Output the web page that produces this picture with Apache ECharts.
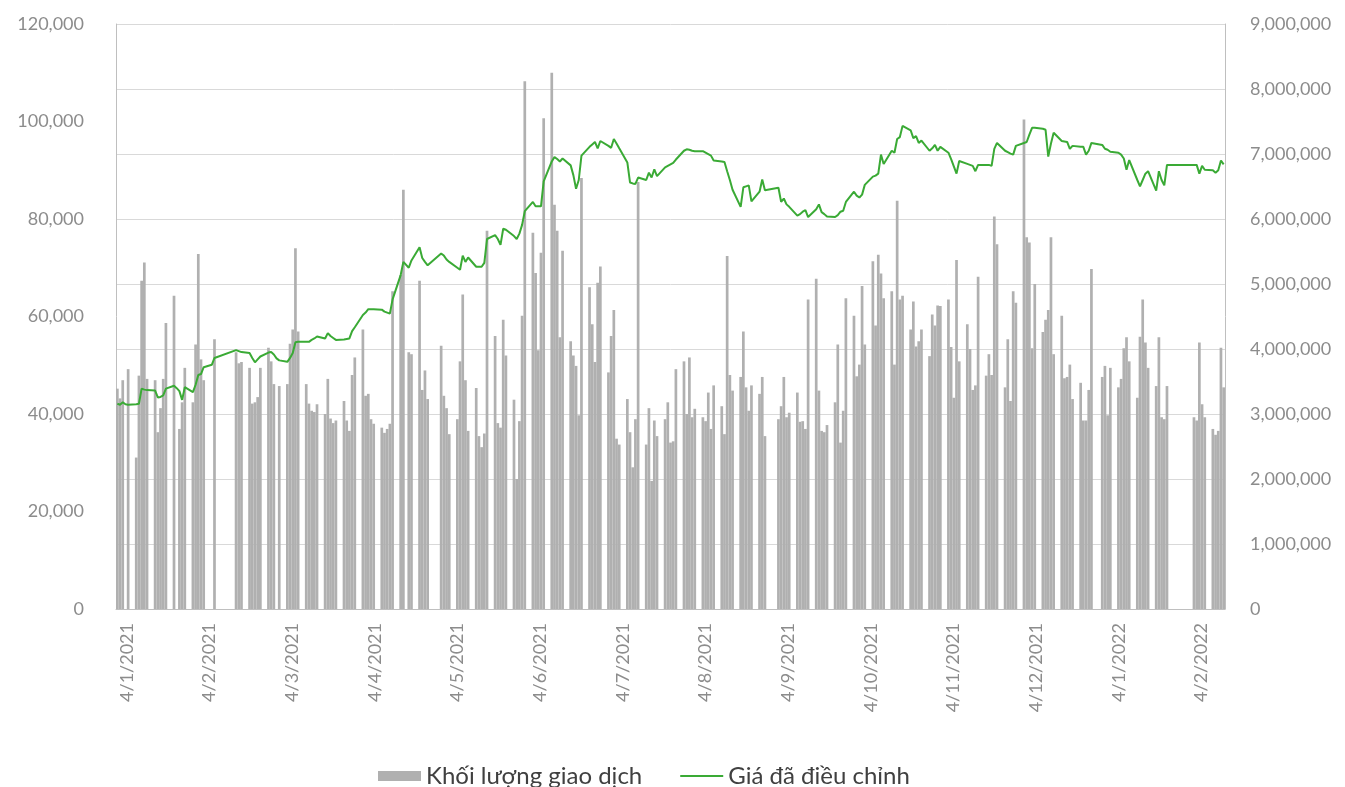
<!DOCTYPE html>
<html>
<head>
<meta charset="utf-8">
<script src="https://cdn.jsdelivr.net/npm/echarts@6/dist/echarts.min.js"></script>
<style>
  html, body { margin: 0; padding: 0; background: #fff; }
  #chart { width: 1345px; height: 787px; }
</style>
</head>
<body>
<div id="chart"></div>
<script>
// tick labels of the date axis (d/m/yyyy)
const monthLabels = ['4/1/2021', '4/2/2021', '4/3/2021', '4/4/2021', '4/5/2021', '4/6/2021', '4/7/2021',
  '4/8/2021', '4/9/2021', '4/10/2021', '4/11/2021', '4/12/2021', '4/1/2022', '4/2/2022'];

const firstDay = '2021-01-04';
const lastDay  = '2022-02-18';
// market closed on these weekdays
const holidays = ['2021-02-10', '2021-02-11', '2021-02-12', '2021-02-15', '2021-02-16', '2021-04-21',
  '2021-04-30', '2021-05-03', '2021-09-02', '2021-09-03', '2022-01-03', '2022-01-31', '2022-02-01',
  '2022-02-02', '2022-02-03', '2022-02-04'];

// Khối lượng giao dịch, one value per session (null = no bar)
const volume2021 = [
  3390000, 3240000, 3520000, null, 3690000, 2330000, 3590000, 5050000, 5330000, 3540000, 3520000, 2720000, 3090000, 3540000, 4400000, 4820000, null, 2770000, 3180000, 3710000,
  3180000, 4070000, 5460000, 3840000, 3520000, null, 4150000, 3950000, 3780000, 3800000, 3710000, 3160000, 3180000, 3260000, 3710000,
  4020000, 3810000, 3460000, null, 3430000, 3460000, 4080000, 4300000, 5550000, 4270000, 3460000, 3160000, 3050000, 3030000, 3150000, 3000000, 3540000, 2930000, 2860000, 2900000, 3200000, 2900000, 2740000,
  3600000, 3870000, 4300000, 3280000, 3310000, 2920000, 2850000, 2790000, 2710000, 2770000, 2850000, 4890000, 5140000, 6450000, 3950000, 3920000, 5050000, 3370000, 3670000, 3230000,
  4050000, 3280000, 3090000, 2690000, 2920000, 3810000, 4840000, 3520000, 2740000, 3400000, 2660000, 2490000, 2700000, 5820000, 4200000, 2860000, 2790000, 4450000, 3900000, 3220000,
  2000000, 2890000, 4510000, 8120000, 5790000, 5170000, 3980000, 5480000, 7550000, 8250000, 6220000, 5820000, 4180000, 5510000, 4120000, 3900000, 3740000, 2980000, 6630000, 4950000, 4380000, 3800000,
  5020000, 5270000, 3640000, 4200000, 4600000, 2620000, 2530000, 3230000, 2720000, 2180000, 2920000, 6570000, 2530000, 3090000, 1970000, 2900000, 2660000, 2920000, 3180000, 2560000, 2580000, 3690000,
  3810000, 3000000, 3870000, 2950000, 3080000, 2950000, 2890000, 3330000, 2770000, 3440000, 3120000, 2690000, 5430000, 3600000, 3360000, 3570000, 4270000, 3410000, 3050000, 3440000, 3310000, 3570000,
  2660000, 2920000, 3120000, 3570000, 2950000, 3020000, 3330000, 2880000, 2890000, 2770000, 4760000, 5080000, 3360000, 2740000, 2720000, 2830000, 3180000, 4070000, 2560000, 3050000,
  4780000, 4510000, 3580000, 3760000, 4970000, 4070000, 5350000, 4360000, 5450000, 5160000, 4780000, 4890000, 3760000, 6280000, 4760000, 4820000, 4300000, 4730000, 4040000, 4120000, 4300000,
  3890000, 4530000, 4360000, 4670000, 4660000, 4760000, 4030000, 3250000, 5370000, 3810000, 4380000, 4000000, 3370000, 3440000, 5110000, 3590000, 3920000, 3600000, 6040000, 5610000, 3410000, 4150000,
  3200000, 4890000, 4710000, 7530000, 5720000, 5640000, 4010000, 5000000, 4260000, 4450000, 4600000, 5720000, 3920000, 4510000, 3550000, 3570000, 3760000, 3230000, 3480000, 2900000, 2900000, 3370000, 5230000
];
const volume2022 = [
  3570000, 3740000, 2980000, 3710000, 3410000, 3540000, 4010000, 4180000, 3810000, 3250000, 4190000, 4760000, 4100000, 3710000, 3430000, 4180000, 2950000, 2920000, 3430000,
  2950000, 2900000, 4100000, 3150000, 2950000, 2770000, 2680000, 2740000, 4020000, 3410000
];

// Giá đã điều chỉnh, one value per session
const price2021 = [
  42100, 41900, 42400, 42000, 41900, 42000, 42100, 45200, 45000, 44900, 44800, 43400, 43500, 43800, 45200, 45800, 45300, 44700, 42900, 45500,
  44500, 46000, 48000, 48200, 49600, 50100, 51500, 53100, 52900, 52700, 52500, 51500, 50600, 51200, 51800,
  52600, 52700, 52200, 51400, 51000, 50700, 51500, 52500, 54700, 54800, 54800, 54800, 55200, 55500, 55900, 55500, 56600, 56000, 55600, 55200, 55300, 55400, 55500,
  57000, 57800, 60300, 60800, 61500, 61500, 61500, 61400, 61000, 60800, 60600, 63500, 68500, 71200, 70000, 71500, 74200, 72000, 71200, 70500,
  72900, 72500, 71700, 71200, 70000, 69600, 72500, 71200, 72100, 70200, 70200, 70200, 71000, 75900, 76700, 75900, 74700, 78000, 77800, 76500,
  75900, 77000, 78800, 81600, 83500, 82600, 82600, 82600, 87700, 91800, 92700, 92300, 91800, 92400, 91000, 89000, 86200, 88000, 93000, 94800, 95300, 95800,
  94500, 96000, 95000, 94600, 96400, 95500, 94500, 91600, 87500, 87300, 87200, 88500, 88000, 89500, 88500, 90200, 88800, 90600, 90900, 91200, 91500, 92200,
  94000, 94300, 94200, 94000, 93900, 93900, 93600, 93300, 93000, 92000, 91800, 91700, 89800, 88000, 86000, 82500, 86500, 86700, 86900, 83600, 85600, 88100,
  85900, 86400, 83500, 84200, 83000, 82500, 80700, 81000, 81500, 81800, 80400, 82000, 83000, 81400, 81000, 80500, 80400, 80800, 81500, 81700,
  83500, 85600, 84800, 84400, 85000, 87000, 88700, 88900, 89300, 93200, 91300, 94000, 93600, 96400, 96800, 99100, 98200, 96600, 97000, 95600, 96100,
  94000, 94500, 95200, 94000, 94800, 93600, 92300, 90800, 89300, 91900, 91300, 91100, 90900, 89800, 91100, 91100, 91100, 90900, 94400, 95600, 94000, 93700,
  93400, 93200, 95000, 95600, 95800, 97300, 98700, 98700, 98500, 98300, 92800, 95500, 97700, 96000, 95900, 95800, 94400, 95000, 94800, 94800, 93200, 94000, 95600
];
const price2022 = [
  95200, 94400, 94200, 93800, 93600, 93200, 92400, 90100, 92100, 88000, 86700, 88000, 89300, 89800, 85800, 89800, 88000, 86900, 91100,
  91100, 91100, 89300, 90900, 90100, 90000, 89500, 90000, 92000, 91200
];

const font = 'Lato, "Open Sans", sans-serif';
const labelColor = '#8c8c8c';
const green = '#3aaa35';

// calendar days on the axis, sessions are the weekdays that are not holidays
function iso(d) { return d.toISOString().slice(0, 10); }
const days = [];
for (let d = new Date(firstDay + 'T00:00:00Z'); iso(d) <= lastDay; d.setUTCDate(d.getUTCDate() + 1)) {
  days.push({ date: iso(d), weekday: d.getUTCDay() });
}
const volumes = volume2021.concat(volume2022);
const prices = price2021.concat(price2022);
const volumeData = [];
const priceData = [];
let k = 0;
days.forEach(day => {
  const open = day.weekday !== 0 && day.weekday !== 6 && holidays.indexOf(day.date) < 0;
  volumeData.push(open ? volumes[k] : null);
  priceData.push(open ? prices[k] : null);
  if (open) k++;
});
if (k !== volumes.length || k !== prices.length) console.warn('session count', k, volumes.length, prices.length);

const chart = echarts.init(document.getElementById('chart'));
chart.setOption({
  animation: false,
  backgroundColor: '#fff',
  grid: [
    { left: 116, right: 120, top: 24, bottom: 178 },
    { left: 126.8, right: 143.5, top: 24, bottom: 178 }
  ],
  legend: {
    left: 378,
    top: 764,
    padding: 0,
    itemWidth: 43,
    itemHeight: 10,
    itemGap: 38,
    textStyle: { fontFamily: font, fontSize: 24, color: '#404040' },
    data: [
      { name: 'Khối lượng giao dịch', icon: 'rect' },
      { name: 'Giá đã điều chỉnh', icon: 'path://M0,0 H44 V2 H0 Z', itemStyle: { color: green } }
    ]
  },
  xAxis: [
    {
      type: 'category',
      gridIndex: 0,
      data: days.map(d => d.date),
      boundaryGap: true,
      axisLine: { lineStyle: { color: '#bfbfbf', width: 1 } },
      axisTick: { show: false },
      axisLabel: { show: false }
    },
    {
      type: 'value',
      gridIndex: 1,
      min: 0,
      max: monthLabels.length - 1,
      interval: 1,
      axisLine: { show: false },
      axisTick: { show: false },
      splitLine: { show: false },
      axisLabel: {
        rotate: 90,
        margin: 14,
        showMinLabel: true,
        showMaxLabel: true,
        color: labelColor,
        fontFamily: font,
        fontSize: 18,
        formatter: v => monthLabels[v]
      }
    }
  ],
  yAxis: [
    {
      type: 'value',
      gridIndex: 0,
      position: 'left',
      min: 0,
      max: 120000,
      interval: 20000,
      axisLine: { show: true, lineStyle: { color: '#bfbfbf' } },
      axisTick: { show: false },
      splitLine: { show: false },
      axisLabel: { margin: 32, color: labelColor, fontFamily: font, fontSize: 18 }
    },
    {
      type: 'value',
      gridIndex: 0,
      position: 'right',
      min: 0,
      max: 9000000,
      interval: 1000000,
      axisLine: { show: true, lineStyle: { color: '#bfbfbf' } },
      axisTick: { show: false },
      splitLine: { show: true, lineStyle: { color: '#d9d9d9', width: 1 } },
      axisLabel: { margin: 25, color: labelColor, fontFamily: font, fontSize: 18 }
    },
    { type: 'value', gridIndex: 1, show: false }
  ],
  series: [
    {
      name: 'Khối lượng giao dịch',
      type: 'bar',
      xAxisIndex: 0,
      yAxisIndex: 1,
      barWidth: 2.7,
      itemStyle: { color: '#b0b0b0' },
      data: volumeData
    },
    {
      name: 'Giá đã điều chỉnh',
      type: 'line',
      xAxisIndex: 0,
      yAxisIndex: 0,
      symbol: 'none',
      connectNulls: true,
      z: 5,
      itemStyle: { color: green },
      lineStyle: { color: green, width: 2 },
      data: priceData
    }
  ]
});
</script>
</body>
</html>
